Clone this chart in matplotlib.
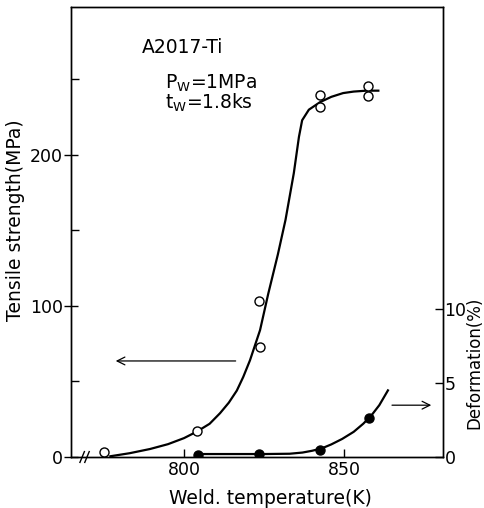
import matplotlib
matplotlib.use("Agg")
import matplotlib.pyplot as plt
from matplotlib.ticker import FixedLocator

# tensile strength measurements (open circles)
ts_temp = [775, 804, 823.4, 823.8, 842.5, 842.5, 857.5, 857.5]
ts_val = [3, 17, 103, 73, 240, 232, 246, 239]

# hand-drawn trend through tensile strength
ts_curve_t = [777, 783, 789.4, 795, 800, 804, 808, 811.25, 814, 816.5, 818.5,
              820.6, 823.75, 826.3, 829.3, 831.7, 834.3, 835.9, 836.9, 839,
              842.5, 846, 849.7, 853, 857, 860.7]
ts_curve_v = [0.5, 2.5, 5.3, 8.5, 12.5, 16.8, 22, 29, 36, 44, 53,
              64, 84, 108, 134, 157, 188, 212, 223, 230,
              235, 238.5, 241, 242, 242.6, 242.6]

# deformation measurements (filled circles)
def_temp = [804.4, 823.4, 842.5, 857.8]
def_val = [0.15, 0.2, 0.5, 2.65]

def_curve_t = [804.4, 815, 825, 833, 837, 840, 843, 846, 849.4, 853, 856,
               858.5, 861, 863.7]
def_curve_v = [0.2, 0.2, 0.2, 0.22, 0.3, 0.42, 0.58, 0.85, 1.22, 1.7, 2.25,
               2.8, 3.5, 4.5]

fig = plt.figure(figsize=(4.84, 5.08), dpi=100)
ax = fig.add_axes([0.1467, 0.1004, 0.7686, 0.8858])
fs = 12.5      # tick labels
fs_lab = 13.5  # axis labels and notes

ax.plot(ts_curve_t, ts_curve_v, color="black", lw=1.6, zorder=2)
ax.plot(ts_temp, ts_val, "o", mfc="white", mec="black", mew=1.0, ms=6.5, zorder=3)

ax.set_xlim(764.7, 880.9)
ax.set_ylim(0, 298)
ax.xaxis.set_major_locator(FixedLocator([800, 850]))
ax.yaxis.set_major_locator(FixedLocator([0, 100, 200]))
ax.yaxis.set_minor_locator(FixedLocator([50, 150, 250]))
ax.tick_params(axis="x", direction="in", length=6, width=1, labelsize=fs, pad=3)
ax.tick_params(axis="y", which="major", direction="inout", length=10, width=1,
               labelsize=fs, pad=1)
ax.tick_params(axis="y", which="minor", direction="in", length=6, width=1)
for s in ax.spines.values():
    s.set_linewidth(1.0)

ax.set_xlabel("Weld. temperature(K)", fontsize=fs_lab)
ax.xaxis.set_label_coords(0.535, -0.072)
ax.set_ylabel("Tensile strength(MPa)", fontsize=fs_lab)
ax.yaxis.set_label_coords(-0.125, 0.527)

# arrow pointing to left axis
ax.annotate("", xy=(777.8, 63.6), xytext=(817, 63.6),
            arrowprops=dict(arrowstyle="->", lw=0.9, color="black",
                            mutation_scale=14))

ax.text(786.9, 271.5, "A2017-Ti", fontsize=fs_lab, va="center", ha="left")
ax.text(794, 247.7, r"P$_\mathrm{W}$=1MPa", fontsize=fs_lab, va="center", ha="left")
ax.text(794, 234.4, r"t$_\mathrm{W}$=1.8ks", fontsize=fs_lab, va="center", ha="left")

# axis break mark
for xf in (0.030, 0.043):
    ax.plot([xf - 0.006, xf + 0.006], [-0.012, 0.012], color="black", lw=1,
            transform=ax.transAxes, clip_on=False)

ax2 = ax.twinx()
ax2.plot(def_curve_t, def_curve_v, color="black", lw=1.6, zorder=2)
ax2.plot(def_temp, def_val, "o", mfc="black", mec="black", ms=6.5, zorder=3)
ax2.set_ylim(0, 30.4)
ax2.yaxis.set_major_locator(FixedLocator([0, 5, 10]))
ax2.tick_params(axis="y", direction="in", length=6, width=1, labelsize=fs, pad=1)
ax2.text(1.083, 0.21, "Deformation(%)", fontsize=12, rotation=90,
         ha="center", va="center", transform=ax2.transAxes)
for s in ax2.spines.values():
    s.set_linewidth(1.0)

ax2.annotate("", xy=(878.1, 3.5), xytext=(864.1, 3.5),
             arrowprops=dict(arrowstyle="->", lw=0.9, color="black",
                             mutation_scale=14))

fig.savefig("out.png", dpi=100)
